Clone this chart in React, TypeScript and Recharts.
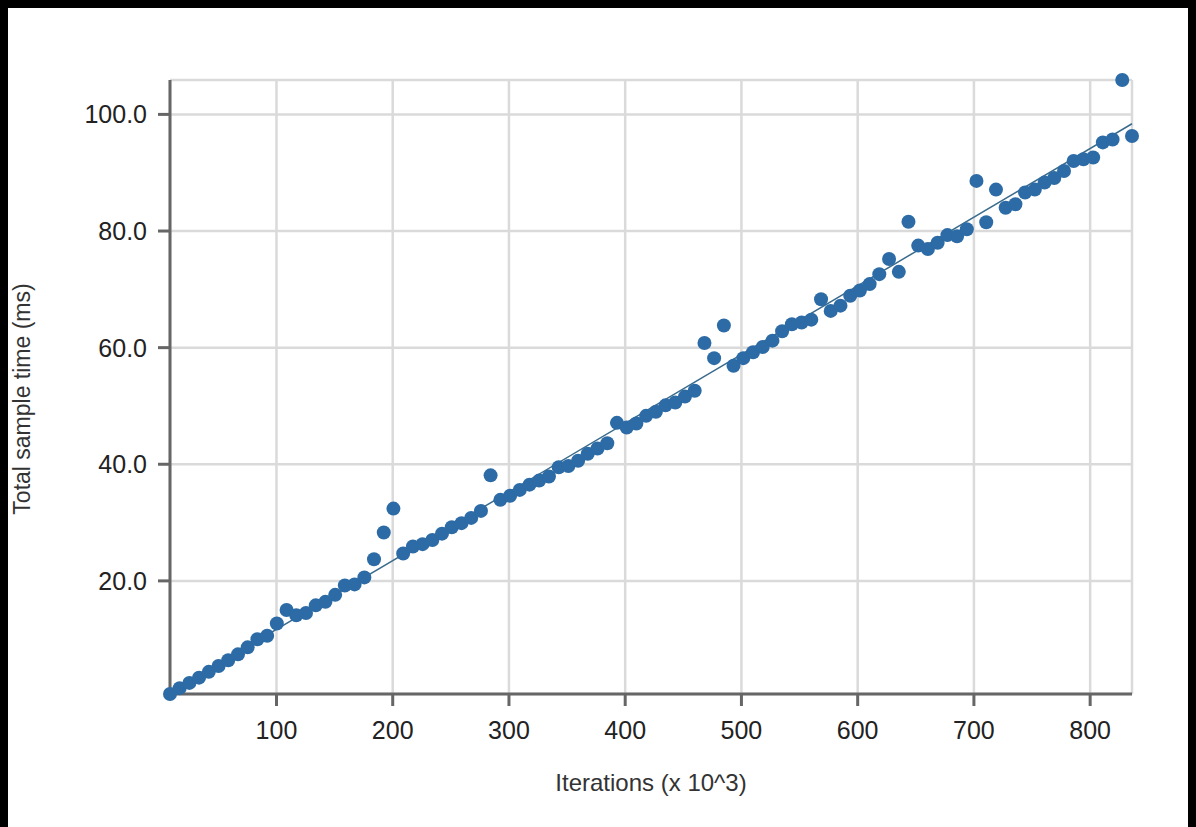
import React from "react";
import {
  ScatterChart,
  Scatter,
  XAxis,
  YAxis,
  CartesianGrid,
  Label,
} from "recharts";

// iterations (x 10^3) for each sample
const iterations = [
  8.4, 16.7, 25.1, 33.4, 41.8, 50.2, 58.5, 66.9, 75.2, 83.6,
  92.0, 100.3, 108.7, 117.0, 125.4, 133.8, 142.1, 150.5, 158.8, 167.2,
  175.6, 183.9, 192.3, 200.6, 209.0, 217.4, 225.7, 234.1, 242.4, 250.8,
  259.2, 267.5, 275.9, 284.2, 292.6, 301.0, 309.3, 317.7, 326.0, 334.4,
  342.8, 351.1, 359.5, 367.8, 376.2, 384.6, 392.9, 401.3, 409.6, 418.0,
  426.4, 434.7, 443.1, 451.4, 459.8, 468.2, 476.5, 484.9, 493.2, 501.6,
  510.0, 518.3, 526.7, 535.0, 543.4, 551.8, 560.1, 568.5, 576.8, 585.2,
  593.6, 601.9, 610.3, 618.6, 627.0, 635.4, 643.7, 652.1, 660.4, 668.8,
  677.2, 685.5, 693.9, 702.2, 710.6, 719.0, 727.3, 735.7, 744.0, 752.4,
  760.8, 769.1, 777.5, 785.8, 794.2, 802.6, 810.9, 819.3, 827.6, 836.0,
];

// total sample time (ms)
const sampleTimes = [
  0.6, 1.6, 2.5, 3.4, 4.4, 5.4, 6.4, 7.4, 8.6, 10.0,
  10.6, 12.7, 15.0, 14.1, 14.5, 15.8, 16.4, 17.6, 19.2, 19.4,
  20.6, 23.7, 28.3, 32.4, 24.7, 25.9, 26.3, 27.0, 28.1, 29.2,
  29.9, 30.8, 32.0, 38.1, 33.9, 34.6, 35.6, 36.5, 37.2, 37.9,
  39.5, 39.7, 40.6, 41.8, 42.7, 43.6, 47.1, 46.3, 47.0, 48.3,
  49.0, 50.1, 50.6, 51.6, 52.6, 60.8, 58.2, 63.8, 56.9, 58.2,
  59.2, 60.1, 61.2, 62.8, 64.0, 64.3, 64.8, 68.3, 66.3, 67.2,
  68.9, 69.8, 70.9, 72.6, 75.2, 73.0, 81.6, 77.5, 76.9, 78.0,
  79.3, 79.1, 80.3, 88.6, 81.5, 87.1, 84.0, 84.6, 86.6, 87.1,
  88.3, 89.1, 90.3, 92.0, 92.3, 92.6, 95.2, 95.7, 105.9, 96.3,
];

// regression line end points
const fitX = [8.4, 836.0];
const fitY = [0.9, 98.4];

const xTicks = [100, 200, 300, 400, 500, 600, 700, 800];
const yTicks = [20, 40, 60, 80, 100];

const samples = iterations.map((x, i) => ({ x, y: sampleTimes[i] }));
const fit = fitX.map((x, i) => ({ x, y: fitY[i] }));

const FONT = "'Liberation Sans', Arial, Helvetica, sans-serif";
const DOT = "#2c6ba5";
const AXIS = "#666";

const Dot = (props: any) => (
  <circle cx={props.cx} cy={props.cy} r={7} fill={DOT} />
);

export default function App() {
  return (
    <div style={{ width: 1188, height: 819, background: "#fff" }}>
      <style>{`body{background:#000;}`}</style>
      <ScatterChart
        width={1188}
        height={819}
        margin={{ top: 72, right: 64, left: 0, bottom: 33 }}
        style={{ fontFamily: FONT }}
      >
        <CartesianGrid stroke="#dadada" strokeWidth={2.5} />
        <XAxis
          dataKey="x"
          type="number"
          domain={["dataMin", "dataMax"]}
          ticks={xTicks}
          height={100}
          stroke={AXIS}
          strokeWidth={3}
          tickSize={12}
          tickMargin={15}
          tick={{ fill: "#222", fontSize: 25 }}
        >
          <Label
            value="Iterations (x 10^3)"
            position="insideBottom"
            offset={3}
            style={{ fill: "#333", fontSize: 24, textAnchor: "middle" }}
          />
        </XAxis>
        <YAxis
          dataKey="y"
          type="number"
          domain={["dataMin", "dataMax"]}
          ticks={yTicks}
          width={162}
          stroke={AXIS}
          strokeWidth={3}
          tickSize={12}
          tickMargin={11}
          tickFormatter={(v: number) => v.toFixed(1)}
          tick={{ fill: "#222", fontSize: 25 }}
        >
          <Label
            value="Total sample time (ms)"
            angle={-90}
            position="insideLeft"
            offset={14}
            dy={12}
            style={{ fill: "#333", fontSize: 23, textAnchor: "middle" }}
          />
        </YAxis>
        <Scatter
          data={fit}
          line={{ stroke: "#3a6b8c", strokeWidth: 1.5 }}
          shape={() => <g />}
          isAnimationActive={false}
        />
        <Scatter data={samples} shape={Dot} isAnimationActive={false} />
      </ScatterChart>
    </div>
  );
}
